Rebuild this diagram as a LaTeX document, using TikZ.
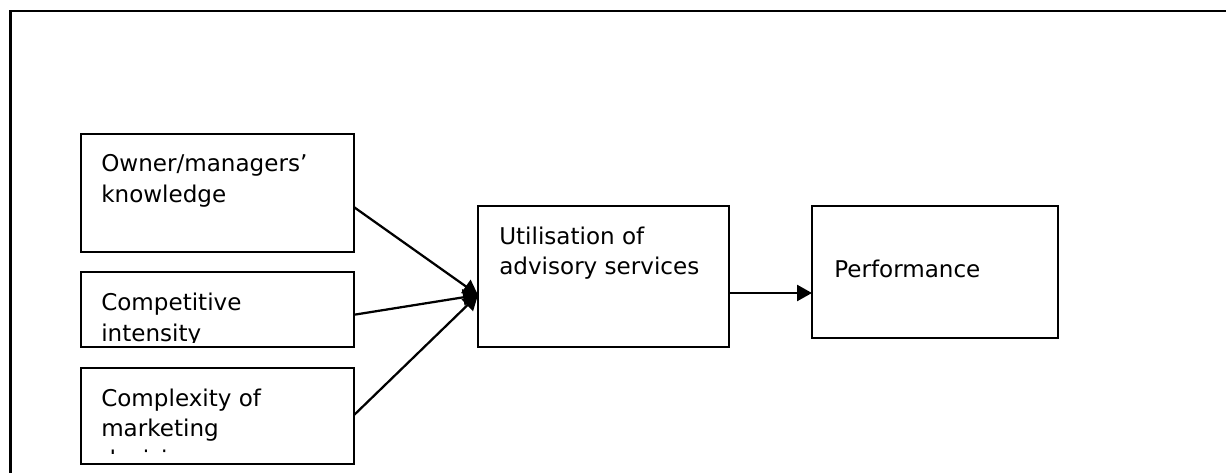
\documentclass[tikz,border=0pt]{standalone}
\usepackage{fontspec}
\setmainfont{DejaVu Sans}
\usetikzlibrary{arrows.meta,calc}
\tikzset{
  box/.style={draw=black,line width=1.3pt,inner sep=0pt,outer sep=0pt},
  lbl/.style={anchor=base west,inner sep=0pt,font=\fontsize{16.4}{21}\selectfont},
  arr/.style={line width=1.6pt,-{Triangle[length=10.6pt,width=11.4pt]}}
}
\begin{document}
\begin{tikzpicture}[x=0.025cm,y=-0.025cm]
\useasboundingbox (0,0) rectangle (1226,473);
\draw[line width=2.1pt] (10.7,473) -- (10.7,11) -- (1226,11);
%---------------------------------------------------
\node[box,minimum width=6.825cm,minimum height=2.95cm] (own) at (217.5,193) {};
\node[box,minimum width=6.825cm,minimum height=1.875cm] (comp) at (217.5,309.5) {};
\node[box,minimum width=6.825cm,minimum height=2.4cm] (cplx) at (217.5,416) {};
\node[box,minimum width=6.275cm,minimum height=3.525cm] (util) at (603.5,276.5) {};
\node[box,minimum width=6.15cm,minimum height=3.3cm] (perf) at (935,272) {};
%---------------------------------------------------
\node[lbl] (ownA) at (101,172) {Owner/managers'};
\node[lbl] (ownB) at (101,202) {knowledge};
\begin{scope}
\clip (comp.north west) rectangle ($(comp.south east)+(0,-4.5)$);
\node[lbl] (compA) at (101,310) {Competitive};
\node[lbl] (compB) at (101,341) {intensity};
\end{scope}
\begin{scope}
\clip (cplx.north west) rectangle ($(cplx.south east)+(0,-10.5)$);
\node[lbl] (cplxA) at (101,406) {Complexity of};
\node[lbl] (cplxB) at (101,436) {marketing};
\node[lbl] (cplxC) at (101,467) {decisions};
\end{scope}
\node[lbl] (utilA) at (499,244) {Utilisation of};
\node[lbl] (utilB) at (499,274) {advisory services};
\node[lbl] (perfA) at (834,277) {Performance};
%---------------------------------------------------
\coordinate (in) at ($(util.north west)!0.631!(util.south west)$);
\coordinate (out) at ($(util.north east)!0.617!(util.south east)$);
\draw[arr] ($(own.north east)!0.62!(own.south east)$) -- (in);
\draw[arr] ($(comp.north east)!0.57!(comp.south east)$) -- (in);
\draw[arr] ($(cplx.north east)!0.49!(cplx.south east)$) -- (in);
\draw[arr] (out) -- (out -| perf.west);
\end{tikzpicture}
\end{document}
